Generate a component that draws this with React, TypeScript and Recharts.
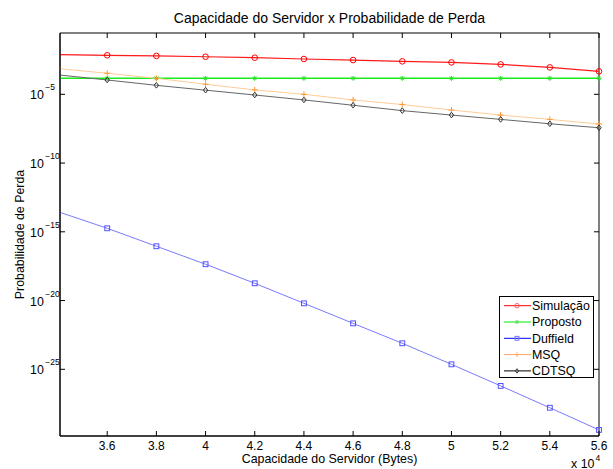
import { LineChart, Line, XAxis, YAxis, Legend, ReferenceArea } from "recharts";

// capacidade do servidor, em unidades de 10^4 bytes
const capacidade = [3.408, 3.6, 3.8, 4.0, 4.2, 4.4, 4.6, 4.8, 5.0, 5.2, 5.4, 5.6];

const simulacao = [7.6e-3, 6.9e-3, 6.2e-3, 5.4e-3, 4.6e-3, 3.7e-3, 3.1e-3, 2.5e-3, 2.1e-3, 1.5e-3, 9.1e-4, 4.7e-4];
const proposto = [1.45e-4, 1.45e-4, 1.45e-4, 1.45e-4, 1.45e-4, 1.45e-4, 1.45e-4, 1.45e-4, 1.45e-4, 1.45e-4, 1.45e-4, 1.45e-4];
const duffield = [2.6e-14, 1.8e-15, 8.9e-17, 4.4e-18, 1.8e-19, 6.3e-21, 2.2e-22, 7.8e-24, 2.3e-25, 6.2e-27, 1.6e-28, 3.9e-30];
const msq = [7.2e-4, 3.4e-4, 1.45e-4, 5.4e-5, 2.1e-5, 1.0e-5, 3.9e-6, 1.8e-6, 7.2e-7, 3.1e-7, 1.5e-7, 6.9e-8];
const cdtsq = [2.5e-4, 1.1e-4, 4.5e-5, 2.0e-5, 8.9e-6, 3.9e-6, 1.6e-6, 6.5e-7, 3.1e-7, 1.5e-7, 7.2e-8, 3.7e-8];

const xTicks = [3.6, 3.8, 4, 4.2, 4.4, 4.6, 4.8, 5, 5.2, 5.4, 5.6];
const yTicks = [1e-25, 1e-20, 1e-15, 1e-10, 1e-5];

const data = capacidade.map((x, i) => ({
  x,
  simulacao: simulacao[i],
  proposto: proposto[i],
  duffield: duffield[i],
  msq: msq[i],
  cdtsq: cdtsq[i],
}));

const series = [
  { key: "simulacao", name: "Simulação", stroke: "#ff1a1a", width: 1.2, marker: "circle", markerColor: "#ff0000", legend: "#ff0000", legendMarker: "#ff6666" },
  { key: "proposto", name: "Proposto", stroke: "#1aee1a", width: 1.5, marker: "star", markerColor: "#33dd33", legend: "#00ee00", legendMarker: "#66dd66" },
  { key: "duffield", name: "Duffield", stroke: "#7a7aff", width: 1, marker: "square", markerColor: "#5050ff", legend: "#0000ff", legendMarker: "#7777ff" },
  { key: "msq", name: "MSQ", stroke: "#ffcc99", width: 1, marker: "plus", markerColor: "#ff9933", legend: "#ffa060", legendMarker: "#ffaa66" },
  { key: "cdtsq", name: "CDTSQ", stroke: "#666666", width: 1, marker: "diamond", markerColor: "#333333", legend: "#000000", legendMarker: "#444444" },
];

const W = 613;
const H = 469;
const PLOT_L = 60;
const PLOT_T = 33;
const PLOT_W = 539;
const PLOT_H = 403;
const FONT = "'Liberation Sans', Arial, Helvetica, sans-serif";

function Marker({ shape, cx, cy, color, s = 1 }: { shape: string; cx: number; cy: number; color: string; s?: number }) {
  switch (shape) {
    case "circle":
      return <circle cx={cx} cy={cy} r={2.8 * s} fill="none" stroke={color} strokeWidth={1} />;
    case "star":
      return (
        <g stroke={color} strokeWidth={1}>
          <line x1={cx - 2.5 * s} x2={cx + 2.5 * s} y1={cy} y2={cy} />
          <line x1={cx} x2={cx} y1={cy - 2.5 * s} y2={cy + 2.5 * s} />
          <line x1={cx - 1.8 * s} x2={cx + 1.8 * s} y1={cy - 1.8 * s} y2={cy + 1.8 * s} />
          <line x1={cx - 1.8 * s} x2={cx + 1.8 * s} y1={cy + 1.8 * s} y2={cy - 1.8 * s} />
        </g>
      );
    case "square":
      return <rect x={cx - 2.4 * s} y={cy - 2.4 * s} width={4.8 * s} height={4.8 * s} fill="none" stroke={color} strokeWidth={1} />;
    case "plus":
      return (
        <g stroke={color} strokeWidth={1}>
          <line x1={cx - 3 * s} x2={cx + 3 * s} y1={cy} y2={cy} />
          <line x1={cx} x2={cx} y1={cy - 3 * s} y2={cy + 3 * s} />
        </g>
      );
    default:
      return (
        <polygon
          points={`${cx},${cy - 2.8 * s} ${cx + 2.2 * s},${cy} ${cx},${cy + 2.8 * s} ${cx - 2.2 * s},${cy}`}
          fill="none"
          stroke={color}
          strokeWidth={1}
        />
      );
  }
}

function XTick({ x, y, payload }: any) {
  return (
    <g>
      <line x1={x} x2={x} y1={y} y2={y - 5} stroke="#000" />
      <line x1={x} x2={x} y1={y - PLOT_H} y2={y - PLOT_H + 5} stroke="#000" />
      <text x={x} y={y + 14} textAnchor="middle" fontSize={12} fill="#000" fontFamily={FONT}>
        {String(payload.value)}
      </text>
    </g>
  );
}

function YTick({ x, y, payload }: any) {
  const exp = Math.round(Math.log10(payload.value));
  return (
    <g>
      <line x1={x} x2={x + 5} y1={y} y2={y} stroke="#000" />
      <line x1={x + PLOT_W} x2={x + PLOT_W - 5} y1={y} y2={y} stroke="#000" />
      <text x={x - 30} y={y + 5} fontSize={12.4} fill="#000" fontFamily={FONT}>
        10
        <tspan dx={1.5} dy={-9} fontSize={8.5}>{`\u2212${-exp}`}</tspan>
      </text>
    </g>
  );
}

function XLabel() {
  return (
    <g fontFamily={FONT} fill="#000">
      <text x={PLOT_L + PLOT_W / 2} y={463} textAnchor="middle" fontSize={12.4}>
        Capacidade do Servidor (Bytes)
      </text>
      <text x={571} y={467.5} fontSize={12.4}>
        x 10
        <tspan dx={1} dy={-7} fontSize={8.5}>4</tspan>
      </text>
    </g>
  );
}

function YLabel() {
  const cy = PLOT_T + PLOT_H / 2;
  return (
    <g fontFamily={FONT} fill="#000">
      <text x={24} y={cy} transform={`rotate(-90 24 ${cy})`} textAnchor="middle" fontSize={12.4}>
        Probabilidade de Perda
      </text>
      <text x={PLOT_L + PLOT_W / 2} y={23.3} textAnchor="middle" fontSize={14}>
        Capacidade do Servidor x Probabilidade de Perda
      </text>
    </g>
  );
}

function LegendBox() {
  return (
    <div
      style={{
        width: 95,
        height: 82,
        border: "1px solid #000",
        background: "#fff",
        boxSizing: "border-box",
      }}
    >
      <svg width={93} height={80} style={{ display: "block" }}>
        {series.map((s, i) => {
          const y = 8.7 + i * 16.3;
          return (
            <g key={s.key}>
              <line x1={4} x2={31} y1={y} y2={y} stroke={s.legend} strokeWidth={1} />
              <Marker shape={s.marker} cx={17} cy={y} color={s.legendMarker} s={0.8} />
              <text x={32} y={y + 4.3} fontSize={12.4} fill="#000" fontFamily={FONT}>
                {s.name}
              </text>
            </g>
          );
        })}
      </svg>
    </div>
  );
}

export default function App() {
  return (
    <div style={{ position: "absolute", left: 0, top: 0, background: "#fff" }}>
      <LineChart
        width={W}
        height={H}
        data={data}
        margin={{ top: PLOT_T, right: W - PLOT_L - PLOT_W, bottom: 0, left: 0 }}
        style={{ fontFamily: FONT }}
      >
        <XAxis
          dataKey="x"
          type="number"
          domain={[3.408, 5.6]}
          ticks={xTicks}
          height={H - PLOT_T - PLOT_H}
          tickSize={0}
          tickMargin={0}
          tickLine={false}
          tick={<XTick />}
          axisLine={{ stroke: "#000" }}
          label={<XLabel />}
        />
        <YAxis
          type="number"
          scale="log"
          domain={[1.41e-30, 0.288]}
          ticks={yTicks}
          width={PLOT_L}
          tickSize={0}
          tickMargin={0}
          tickLine={false}
          tick={<YTick />}
          axisLine={{ stroke: "#000" }}
          label={<YLabel />}
        />
        <ReferenceArea
          x1={3.408}
          x2={5.6}
          y1={1.41e-30}
          y2={0.288}
          fill="none"
          stroke="#000"
          strokeWidth={1}
          ifOverflow="visible"
        />
        {series.map((s) => (
          <Line
            key={s.key}
            dataKey={s.key}
            name={s.name}
            type="linear"
            stroke={s.stroke}
            strokeWidth={s.width}
            isAnimationActive={false}
            dot={(p: any) =>
              p.index === 0 ? (
                <g key={`${s.key}-${p.index}`} />
              ) : (
                <Marker key={`${s.key}-${p.index}`} shape={s.marker} cx={p.cx} cy={p.cy} color={s.markerColor} />
              )
            }
          />
        ))}
        <Legend
          layout="vertical"
          align="center"
          verticalAlign="middle"
          content={() => <LegendBox />}
          wrapperStyle={{ position: "absolute", left: 499, top: 296, width: 95, height: 82 }}
        />
      </LineChart>
    </div>
  );
}
